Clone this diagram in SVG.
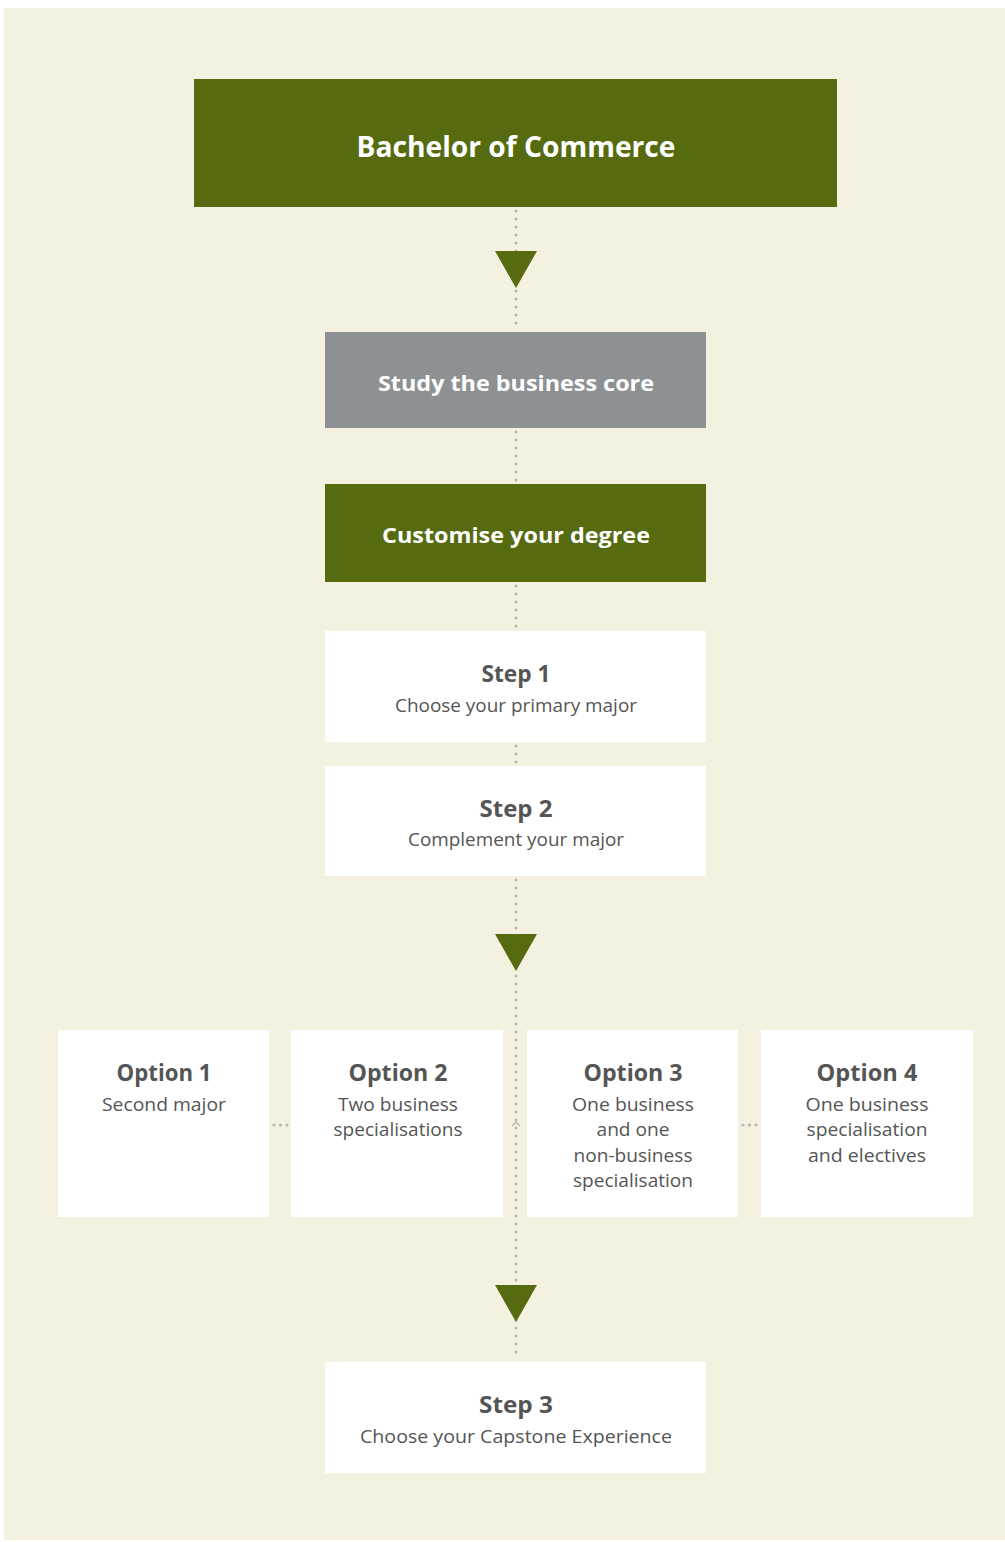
<svg xmlns="http://www.w3.org/2000/svg" width="1005" height="1542" viewBox="0 0 1005 1542">
<style>
.dots{stroke:#b9b7ae;stroke-width:3;stroke-linecap:round;stroke-dasharray:0 8;fill:none}
.dot{fill:#b9b7ae}
.green{fill:#566b10}
.gray{fill:#8e9193}
.white{fill:#ffffff}
.arrow{fill:#566b10}
.tw{font-family:"Open Sans","Liberation Sans",sans-serif;font-weight:700;fill:#ffffff;text-anchor:middle}
.th{font-family:"Open Sans","Liberation Sans",sans-serif;font-weight:700;fill:#555555;text-anchor:middle}
.ts{font-family:"Open Sans","Liberation Sans",sans-serif;font-weight:400;fill:#555555;text-anchor:middle;font-size:17.5px}
</style>
<rect x="0" y="0" width="1005" height="1542" fill="#ffffff"/>
<rect x="4" y="8" width="1001" height="1532" fill="#f5f1e0"/>
<g id="connectors">
<line class="dots" x1="516" y1="211" x2="516" y2="330"/>
<line class="dots" x1="516" y1="432" x2="516" y2="482"/>
<line class="dots" x1="516" y1="586" x2="516" y2="628"/>
<line class="dots" x1="516" y1="746" x2="516" y2="764"/>
<line class="dots" x1="516" y1="880" x2="516" y2="1360"/>
<circle class="dot" cx="274" cy="1125" r="1.6"/>
<circle class="dot" cx="280.5" cy="1125" r="1.6"/>
<circle class="dot" cx="287" cy="1125" r="1.6"/>
<circle class="dot" cx="743" cy="1125" r="1.6"/>
<circle class="dot" cx="749.5" cy="1125" r="1.6"/>
<circle class="dot" cx="756" cy="1125" r="1.6"/>
<polyline points="512,1126 516,1122 520,1126" fill="none" stroke="#b9b7ae" stroke-width="1.5"/>
<polygon class="arrow" points="495,251 537,251 516,288"/>
<polygon class="arrow" points="495,934 537,934 516,971"/>
<polygon class="arrow" points="495,1285 537,1285 516,1322"/>
</g>
<g id="bachelor">
<rect class="green" x="194" y="79" width="643" height="128"/>
<text class="tw" x="516" y="157" font-size="28" textLength="319" lengthAdjust="spacingAndGlyphs">Bachelor of Commerce</text>
</g>
<g id="core">
<rect class="gray" x="325" y="332" width="381" height="96"/>
<text class="tw" x="516" y="391" font-size="22" textLength="276" lengthAdjust="spacingAndGlyphs">Study the business core</text>
</g>
<g id="customise">
<rect class="green" x="325" y="484" width="381" height="98"/>
<text class="tw" x="516" y="543" font-size="22" textLength="268" lengthAdjust="spacingAndGlyphs">Customise your degree</text>
</g>
<g id="step1">
<rect class="white" x="325" y="631" width="381" height="111"/>
<text class="th" x="516" y="682" font-size="23" textLength="69" lengthAdjust="spacingAndGlyphs">Step 1</text>
<text class="ts" x="516" y="712" textLength="242" lengthAdjust="spacingAndGlyphs">Choose your primary major</text>
</g>
<g id="step2">
<rect class="white" x="325" y="766" width="381" height="110"/>
<text class="th" x="516" y="817" font-size="23" textLength="73" lengthAdjust="spacingAndGlyphs">Step 2</text>
<text class="ts" x="516" y="846" textLength="216" lengthAdjust="spacingAndGlyphs">Complement your major</text>
</g>
<g id="option1">
<rect class="white" x="58" y="1030" width="211" height="187"/>
<text class="th" x="164" y="1081" font-size="24" textLength="95" lengthAdjust="spacingAndGlyphs">Option 1</text>
<text class="ts" x="164" y="1111" textLength="124" lengthAdjust="spacingAndGlyphs">Second major</text>
</g>
<g id="option2">
<rect class="white" x="291" y="1030" width="212" height="187"/>
<text class="th" x="398" y="1081" font-size="24" textLength="99" lengthAdjust="spacingAndGlyphs">Option 2</text>
<text class="ts" x="398" y="1111" textLength="120" lengthAdjust="spacingAndGlyphs">Two business</text>
<text class="ts" x="398" y="1136" textLength="129" lengthAdjust="spacingAndGlyphs">specialisations</text>
</g>
<g id="option3">
<rect class="white" x="527" y="1030" width="211" height="187"/>
<text class="th" x="633" y="1081" font-size="24" textLength="99" lengthAdjust="spacingAndGlyphs">Option 3</text>
<text class="ts" x="633" y="1111" textLength="122" lengthAdjust="spacingAndGlyphs">One business</text>
<text class="ts" x="633" y="1136" textLength="73" lengthAdjust="spacingAndGlyphs">and one</text>
<text class="ts" x="633" y="1162" textLength="119" lengthAdjust="spacingAndGlyphs">non-business</text>
<text class="ts" x="633" y="1187" textLength="120" lengthAdjust="spacingAndGlyphs">specialisation</text>
</g>
<g id="option4">
<rect class="white" x="761" y="1030" width="212" height="187"/>
<text class="th" x="867" y="1081" font-size="24" textLength="101" lengthAdjust="spacingAndGlyphs">Option 4</text>
<text class="ts" x="867" y="1111" textLength="123" lengthAdjust="spacingAndGlyphs">One business</text>
<text class="ts" x="867" y="1136" textLength="121" lengthAdjust="spacingAndGlyphs">specialisation</text>
<text class="ts" x="867" y="1162" textLength="118" lengthAdjust="spacingAndGlyphs">and electives</text>
</g>
<g id="step3">
<rect class="white" x="325" y="1362" width="381" height="111"/>
<text class="th" x="516" y="1413" font-size="23" textLength="74" lengthAdjust="spacingAndGlyphs">Step 3</text>
<text class="ts" x="516" y="1443" textLength="312" lengthAdjust="spacingAndGlyphs">Choose your Capstone Experience</text>
</g>
</svg>
